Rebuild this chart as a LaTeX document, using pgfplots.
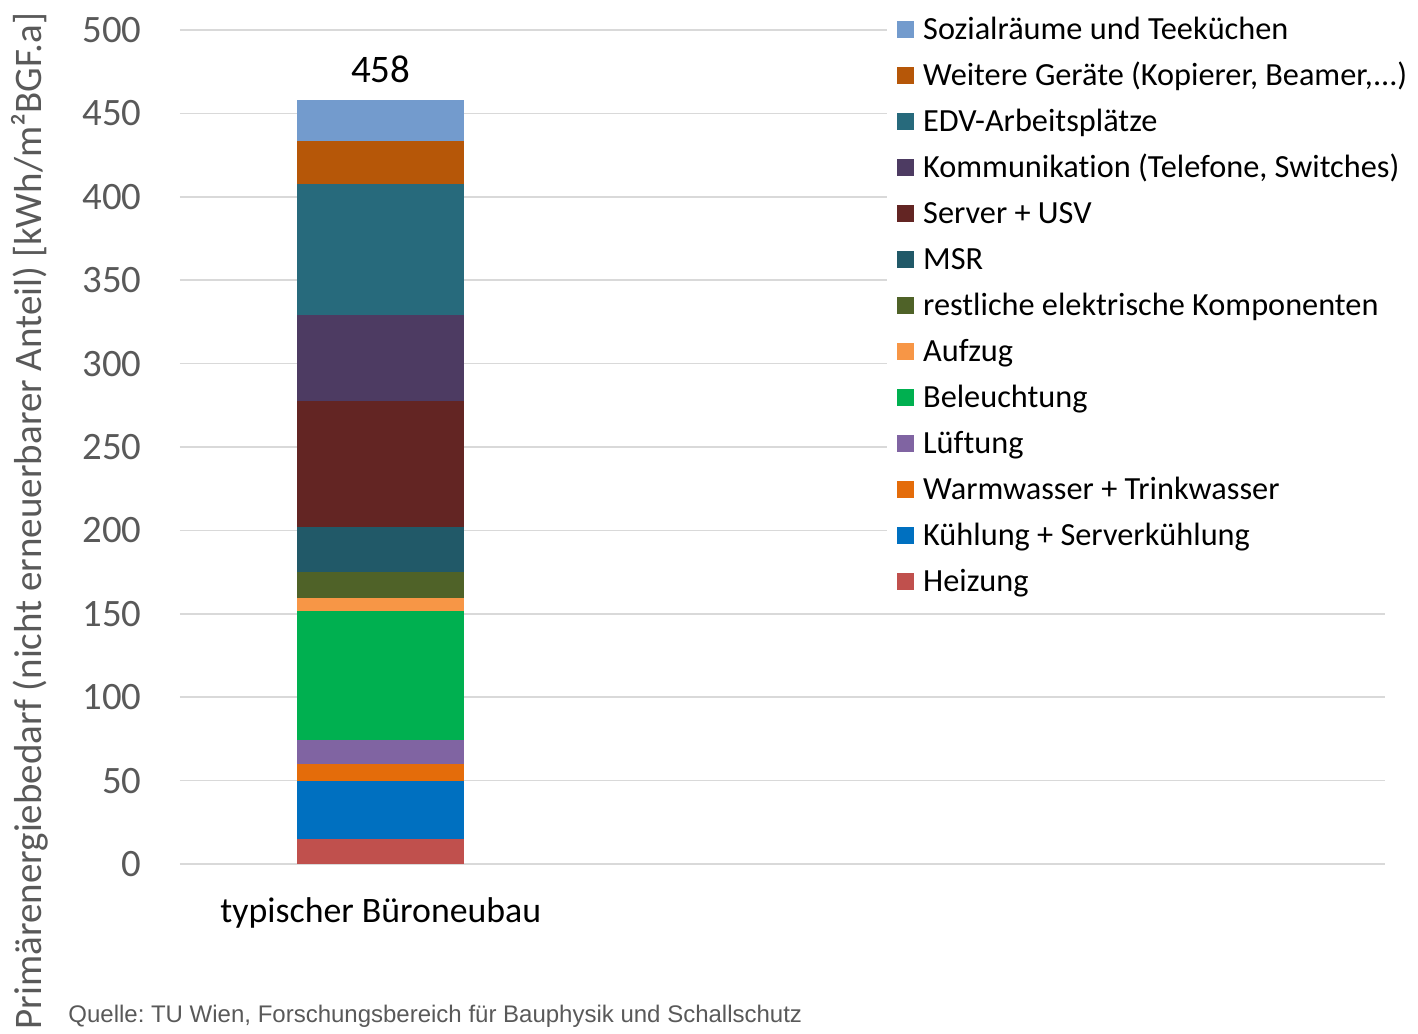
\documentclass[border=0pt]{standalone}
\usepackage{fontspec}
\setmainfont{Carlito}[Ligatures=NoCommon]
\newfontfamily\srcfont{Liberation Sans}
\usepackage{pgfplots}
\pgfplotsset{compat=1.18}
\frenchspacing
\definecolor{gridgray}{HTML}{D9D9D9}
\definecolor{labelgray}{HTML}{595959}
\definecolor{cSozial}{RGB}{115,155,205}
\definecolor{cWeitere}{RGB}{182,87,8}
\definecolor{cEDV}{RGB}{39,106,124}
\definecolor{cKomm}{RGB}{77,59,98}
\definecolor{cServer}{RGB}{99,37,35}
\definecolor{cMSR}{RGB}{33,89,104}
\definecolor{cRest}{RGB}{79,98,40}
\definecolor{cAufzug}{RGB}{247,150,70}
\definecolor{cLicht}{RGB}{0,176,80}
\definecolor{cLuft}{RGB}{128,100,162}
\definecolor{cWasser}{RGB}{228,108,10}
\definecolor{cKuehl}{RGB}{0,112,192}
\definecolor{cHeiz}{RGB}{192,80,77}

\begin{document}
\begin{tikzpicture}
\begin{axis}[
  scale only axis,
  width=602.5pt, height=417pt,
  ybar stacked,
  bar width=83.5pt,
  xmin=-0.5, xmax=2.5,
  ymin=0, ymax=500,
  xtick={0},
  xticklabels={typischer Büroneubau},
  ytick={0,50,...,500},
  ymajorgrids=true,
  grid style={draw=gridgray, line width=0.75pt},
  axis line style={draw=none},
  major tick length=0pt,
  /pgf/number format/assume math mode=true,
  yticklabel style={font=\fontsize{19.4}{23}\selectfont, text=labelgray, inner sep=0pt, xshift=-19pt},
  xticklabel style={font=\fontsize{17.9}{21}\selectfont, anchor=base, inner sep=0pt, yshift=-29pt},
  ylabel={Primärenergiebedarf (nicht erneuerbarer Anteil) [kWh/m²BGF.a]},
  ylabel style={at={(rel axis cs:-0.1245,0.411)}, anchor=center, font=\fontsize{19.5}{23}\selectfont, text=labelgray, inner sep=0pt},
  reverse legend,
  legend cell align=left,
  legend image code/.code={\fill[#1] (0pt,-4.2pt) rectangle (8.4pt,4.2pt);},
  legend style={
    at={(0.5867,1.0300)}, anchor=north west,
    fill=white, draw=none,
    inner xsep=5pt, inner ysep=5pt,
    font=\fontsize{16.15}{19}\selectfont,
    row sep=9pt,
    nodes={inner sep=0pt, text height=12pt, text depth=2pt},
    /tikz/every odd column/.append style={column sep=4.5pt},
  },
]
% bottom to top
\addplot[fill=cHeiz, draw=none]   coordinates {(0,14.8)};
\addlegendentry{Heizung}
\addplot[fill=cKuehl, draw=none]  coordinates {(0,35.0)};
\addlegendentry{Kühlung + Serverkühlung}
\addplot[fill=cWasser, draw=none] coordinates {(0,10.4)};
\addlegendentry{Warmwasser + Trinkwasser}
\addplot[fill=cLuft, draw=none]   coordinates {(0,14.4)};
\addlegendentry{Lüftung}
\addplot[fill=cLicht, draw=none]  coordinates {(0,77.2)};
\addlegendentry{Beleuchtung}
\addplot[fill=cAufzug, draw=none] coordinates {(0,7.6)};
\addlegendentry{Aufzug}
\addplot[fill=cRest, draw=none]   coordinates {(0,15.6)};
\addlegendentry{restliche elektrische Komponenten}
\addplot[fill=cMSR, draw=none]    coordinates {(0,27.0)};
\addlegendentry{MSR}
\addplot[fill=cServer, draw=none] coordinates {(0,75.7)};
\addlegendentry{Server + USV}
\addplot[fill=cKomm, draw=none]   coordinates {(0,51.6)};
\addlegendentry{Kommunikation (Telefone, Switches)}
\addplot[fill=cEDV, draw=none]    coordinates {(0,78.6)};
\addlegendentry{EDV-Arbeitsplätze}
\addplot[fill=cWeitere, draw=none] coordinates {(0,25.8)};
\addlegendentry{Weitere Geräte (Kopierer, Beamer,...)}
\addplot[fill=cSozial, draw=none] coordinates {(0,24.3)};
\addlegendentry{Sozialräume und Teeküchen}
% total above the bar
\node[anchor=base, yshift=8.85pt, inner sep=0pt, font=\fontsize{19.5}{23}\selectfont] at (axis cs:0,458) {458};
\coordinate (O) at (rel axis cs:0,0);
\end{axis}
\node[anchor=base west, inner sep=0pt, text=labelgray, font=\srcfont\fontsize{12}{14}\selectfont]
  at ([shift={(-56pt,-79pt)}]O) {Quelle: TU Wien, Forschungsbereich für Bauphysik und Schallschutz};
\pgfresetboundingbox
\path[use as bounding box] ([shift={(-90pt,-84.5pt)}]O) rectangle ([shift={(619pt,432pt)}]O);
\end{tikzpicture}
\end{document}
